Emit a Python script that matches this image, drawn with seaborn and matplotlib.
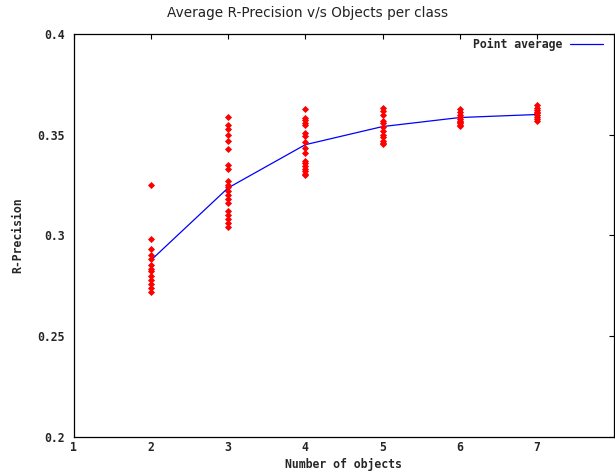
import matplotlib
matplotlib.use("Agg")
import matplotlib.pyplot as plt
import seaborn as sns
import pandas as pd

# R-Precision per run, grouped by number of objects per class
x_ticks = [1, 2, 3, 4, 5, 6, 7]
y_ticks = [0.2, 0.25, 0.3, 0.35, 0.4]
y_tick_labels = ["0.2", "0.25", "0.3", "0.35", "0.4"]

prec_2 = [0.325, 0.298, 0.293, 0.290, 0.288, 0.285, 0.283, 0.282, 0.280,
          0.278, 0.276, 0.274, 0.272]
prec_3 = [0.359, 0.355, 0.353, 0.350, 0.347, 0.343, 0.335, 0.333, 0.327,
          0.325, 0.324, 0.322, 0.320, 0.318, 0.316, 0.312, 0.310, 0.308,
          0.306, 0.304]
prec_4 = [0.3625, 0.3585, 0.3575, 0.356, 0.355, 0.351, 0.3495, 0.3465,
          0.3435, 0.341, 0.337, 0.336, 0.3345, 0.333, 0.332, 0.3305, 0.330]
prec_5 = [0.363, 0.3615, 0.360, 0.357, 0.356, 0.354, 0.352, 0.350, 0.349,
          0.347, 0.346, 0.3455]
prec_6 = [0.3625, 0.361, 0.360, 0.359, 0.358, 0.357, 0.3565, 0.356, 0.355,
          0.3545]
prec_7 = [0.3645, 0.363, 0.362, 0.361, 0.3605, 0.360, 0.359, 0.358, 0.357]

avg_objects = [2, 3, 4, 5, 6, 7]
avg_precision = [0.2875, 0.3235, 0.345, 0.354, 0.3585, 0.360]

groups = {2: prec_2, 3: prec_3, 4: prec_4, 5: prec_5, 6: prec_6, 7: prec_7}
points = pd.DataFrame(
    [(k, v) for k, vals in groups.items() for v in vals],
    columns=["objects", "precision"],
)
average = pd.DataFrame({"objects": avg_objects, "precision": avg_precision})

sns.set_style("white")
mono = ["DejaVu Sans Mono"]
small = 8.3

W, H = 615, 476
fig = plt.figure(figsize=(W / 100, H / 100), dpi=100)
left, right, top, bottom = 73.5, 614.3, 34, 436.5
ax = fig.add_axes([left / W, 1 - bottom / H, (right - left) / W,
                   (bottom - top) / H])

sns.scatterplot(data=points, x="objects", y="precision", ax=ax,
                marker="D", s=9, color="red", edgecolor="red", linewidth=0.6,
                legend=False, zorder=3)
sns.lineplot(data=average, x="objects", y="precision", ax=ax,
             color="blue", linewidth=0.9, label="Point average", zorder=2)

ax.set_xlim(1, 8)
ax.set_ylim(0.2, 0.4)
ax.set_xticks(x_ticks)
ax.set_xticklabels([str(t) for t in x_ticks], family=mono,
                   fontweight="bold", fontsize=small)
ax.set_yticks(y_ticks)
ax.set_yticklabels(y_tick_labels, family=mono, fontweight="bold",
                   fontsize=small)
ax.tick_params(direction="in", length=3.4, width=0.8, color="black",
               top=True, right=True)
ax.tick_params(axis="y", pad=6)
ax.tick_params(axis="x", pad=3.5)

for spine in ax.spines.values():
    spine.set_visible(True)
    spine.set_color("black")
    spine.set_linewidth(0.9)

ax.set_xlabel("Number of objects", family=mono, fontweight="bold",
              fontsize=small, labelpad=2.5)
ax.set_ylabel("R-Precision", family=mono, fontweight="bold",
              fontsize=small, labelpad=10)
fig.suptitle("Average R-Precision v/s Objects per class", x=0.5, y=0.988,
             fontsize=9.8, color="#222222")

ax.legend(loc="upper right", frameon=False, handlelength=2.85,
          handletextpad=0.7, borderaxespad=0, borderpad=0,
          bbox_to_anchor=(603 / W, 1 - 38 / H),
          bbox_transform=fig.transFigure,
          prop={"family": mono, "weight": "bold", "size": small},
          markerfirst=False)

fig.savefig("out.png", dpi=100)
